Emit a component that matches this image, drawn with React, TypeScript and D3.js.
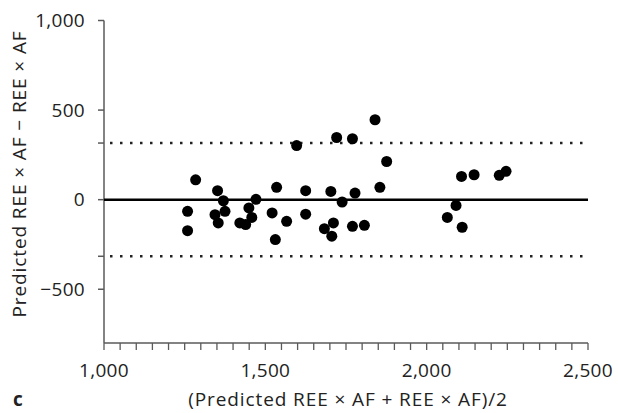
import React from "react";
import * as d3 from "d3";

const meanValues = [
  1259, 1259, 1284, 1352, 1370, 1344, 1375, 1354, 1471, 1449,
  1458, 1421, 1439, 1535, 1521, 1531, 1566, 1597, 1625, 1625,
  1703, 1721, 1738, 1683, 1711, 1706, 1770, 1778, 1770, 1807,
  1840, 1876, 1855, 2108, 2147, 2225, 2246, 2091, 2064, 2110,
];
const diffValues = [
  -65, -173, 111, 50, -6, -84, -65, -130, 2, -46,
  -99, -130, -139, 69, -74, -223, -121, 302, 50, -81,
  46, 347, -13, -162, -130, -204, 340, 37, -149, -143,
  446, 213, 69, 130, 139, 136, 158, -32, -99, -154,
];
const xTicks = [1000, 1500, 2000, 2500];
const yTicks = [1000, 500, 0, -500];
const xDomain = [1000, 2500];
const yDomain = [-800, 1000];
const meanBias = 0;
const loaUpper = 316;
const loaLower = -316;
const xLabel = "(Predicted REE × AF + REE × AF)/2";
const yLabel = "Predicted REE × AF − REE × AF";
const panelLabel = "c";

const W = 618;
const H = 413;
const left = 104;
const right = 588;
const top = 20.5;
const bottom = 343;

export default function App() {
  const x = d3.scaleLinear().domain(xDomain).range([left, right]);
  const yS = d3.scaleLinear().domain(yDomain).range([bottom, top]);
  const minor = d3.range(xDomain[0], xDomain[1] + 1, 50);
  const fmt = (v: number) => (v < 0 ? "−" + d3.format(",")(-v) : d3.format(",")(v));
  const font = "'Open Sans', 'Noto Sans', sans-serif";
  const axisColor = "#5a5a5a";
  const textColor = "#222";
  const fs = 19;
  return (
    <svg
      width={W}
      height={H}
      style={{ position: "absolute", left: 0, top: 0, background: "#fff" }}
      fontFamily={font}
    >
      {/* y axis */}
      <line x1={left} x2={left} y1={yS(yDomain[1])} y2={bottom} stroke={axisColor} strokeWidth={1.5} />
      {[...yTicks, loaUpper, loaLower].map((t) => (
        <line key={t} x1={left - 6} x2={left} y1={yS(t)} y2={yS(t)} stroke={axisColor} strokeWidth={1.5} />
      ))}
      {yTicks.map((t) => (
        <text key={t} x={left - 19} y={yS(t)} dy="0.35em" textAnchor="end" fontSize={fs} letterSpacing={0.3} fill={textColor}>
          {fmt(t)}
        </text>
      ))}
      {/* x axis */}
      <line x1={left} x2={right} y1={bottom} y2={bottom} stroke={axisColor} strokeWidth={1.5} />
      {minor.map((t) => (
        <line key={t} x1={x(t)} x2={x(t)} y1={bottom} y2={bottom + 7} stroke={axisColor} strokeWidth={1.3} />
      ))}
      {xTicks.map((t) => (
        <text key={t} x={x(t)} y={370} dy="0.35em" textAnchor="middle" fontSize={fs} letterSpacing={0.3} fill={textColor}>
          {fmt(t)}
        </text>
      ))}
      {/* reference lines */}
      <line x1={left} x2={right} y1={yS(meanBias)} y2={yS(meanBias)} stroke="#000" strokeWidth={2.5} />
      <line x1={left + 6} x2={x(2490)} y1={yS(loaUpper)} y2={yS(loaUpper)} stroke="#222" strokeWidth={2.5} strokeDasharray="2.5 7.5" />
      <line x1={left + 6} x2={x(2490)} y1={yS(loaLower)} y2={yS(loaLower)} stroke="#222" strokeWidth={2.5} strokeDasharray="2.5 7.5" />
      {/* points */}
      {meanValues.map((m, i) => (
        <circle key={i} cx={x(m)} cy={yS(diffValues[i])} r={5.5} fill="#000" />
      ))}
      {/* labels */}
      <text x={(left + right) / 2 + 2} y={399} dy="0.35em" textAnchor="middle" fontSize={fs} letterSpacing={0.9} fill={textColor}>
        {xLabel}
      </text>
      <text
        transform={`translate(19, 174) rotate(-90)`}
        dy="0.35em"
        textAnchor="middle"
        fontSize={fs}
        letterSpacing={0.9}
        fill={textColor}
      >
        {yLabel}
      </text>
      <text x={13} y={406} fontSize={19} fontWeight="bold" fill={textColor}>
        {panelLabel}
      </text>
    </svg>
  );
}
